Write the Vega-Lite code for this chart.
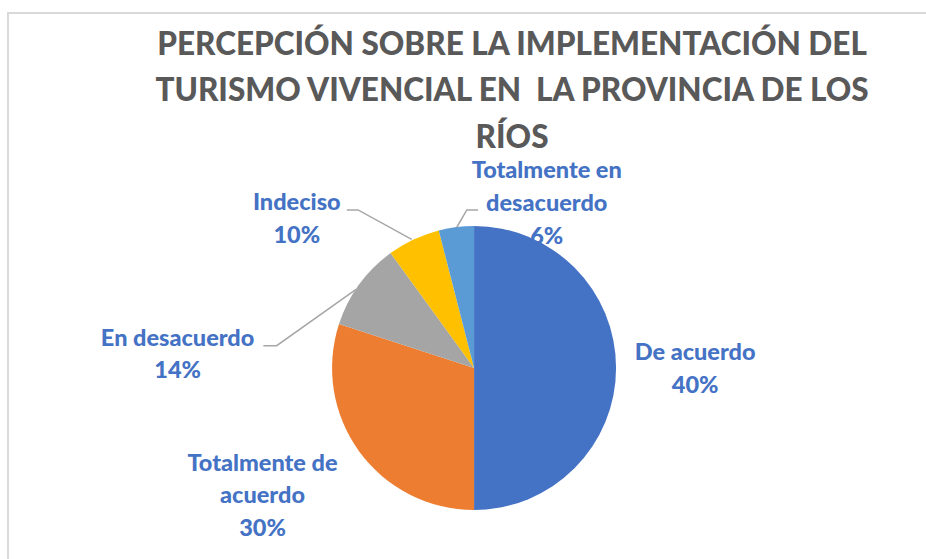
{
  "$schema": "https://vega.github.io/schema/vega-lite/v6.json",
  "autosize": "none",
  "padding": {"left": 8, "top": 13, "right": 0, "bottom": 0},
  "width": 930,
  "height": 560,
  "background": "white",
  "config": {"view": {"stroke": "#D9D9D9", "strokeWidth": 2}},
  "datasets": {
    "respuestas": [
      {"categoria": "De acuerdo", "valor": 50, "orden": 1},
      {"categoria": "Totalmente de acuerdo", "valor": 30, "orden": 2},
      {"categoria": "En desacuerdo", "valor": 10, "orden": 3},
      {"categoria": "Indeciso", "valor": 6, "orden": 4},
      {"categoria": "Totalmente en desacuerdo", "valor": 4, "orden": 5}
    ],
    "etiquetas": [
      {"categoria": "De acuerdo", "texto": ["De acuerdo", "40%"], "lx": 1.56, "ly": 0.056},
      {"categoria": "Totalmente de acuerdo", "texto": ["Totalmente de", "acuerdo", "30%"], "lx": -1.493, "ly": -0.725},
      {"categoria": "En desacuerdo", "texto": ["En desacuerdo", "14%"], "lx": -2.092, "ly": 0.157},
      {"categoria": "Indeciso", "texto": ["Indeciso", "10%"], "lx": -1.251, "ly": 1.115},
      {"categoria": "Totalmente en desacuerdo", "texto": ["Totalmente en", "desacuerdo", "6%"], "lx": 0.513, "ly": 1.339}
    ],
    "guias": [
      {"grupo": "Indeciso", "i": 1, "gx": -0.898, "gy": 1.115},
      {"grupo": "Indeciso", "i": 2, "gx": -0.819, "gy": 1.115},
      {"grupo": "Indeciso", "i": 3, "gx": -0.44, "gy": 0.908},
      {"grupo": "Totalmente en desacuerdo", "i": 1, "gx": 0.028, "gy": 1.115},
      {"grupo": "Totalmente en desacuerdo", "i": 2, "gx": -0.051, "gy": 1.115},
      {"grupo": "Totalmente en desacuerdo", "i": 3, "gx": -0.122, "gy": 0.993},
      {"grupo": "En desacuerdo", "i": 1, "gx": -1.487, "gy": 0.157},
      {"grupo": "En desacuerdo", "i": 2, "gx": -1.393, "gy": 0.157},
      {"grupo": "En desacuerdo", "i": 3, "gx": -0.833, "gy": 0.555}
    ]
  },
  "layer": [
    {
      "data": {"name": "respuestas"},
      "mark": {"type": "arc", "radius": 142},
      "encoding": {
        "x": {"datum": 0, "type": "quantitative", "scale": {"domain": [-3.289, 3.274], "nice": false, "zero": false}, "axis": null},
        "y": {"datum": 0, "type": "quantitative", "scale": {"domain": [-1.447, 2.505], "nice": false, "zero": false}, "axis": null},
        "theta": {"field": "valor", "type": "quantitative", "stack": true},
        "order": {"field": "orden", "type": "quantitative"},
        "color": {
          "field": "categoria",
          "type": "nominal",
          "legend": null,
          "scale": {
            "domain": ["De acuerdo", "Totalmente de acuerdo", "En desacuerdo", "Indeciso", "Totalmente en desacuerdo"],
            "range": ["#4472C4", "#ED7D31", "#A5A5A5", "#FFC000", "#5B9BD5"]
          }
        }
      }
    },
    {
      "data": {"name": "guias"},
      "mark": {"type": "line", "color": "#A6A6A6", "strokeWidth": 1.5},
      "encoding": {
        "x": {"field": "gx", "type": "quantitative", "axis": null},
        "y": {"field": "gy", "type": "quantitative", "axis": null},
        "detail": {"field": "grupo"},
        "order": {"field": "i", "type": "quantitative"}
      }
    },
    {
      "data": {"name": "etiquetas"},
      "mark": {"type": "text", "font": "Lato", "fontWeight": 900, "fontSize": 23.5, "color": "#4472C4", "align": "center", "baseline": "alphabetic", "lineHeight": 32.7},
      "encoding": {
        "x": {"field": "lx", "type": "quantitative", "axis": null},
        "y": {"field": "ly", "type": "quantitative", "axis": null},
        "text": {"field": "texto"}
      }
    },
    {
      "data": {"values": [{"titulo": ["PERCEPCIÓN SOBRE LA IMPLEMENTACIÓN DEL", "TURISMO VIVENCIAL EN \u00a0LA PROVINCIA DE LOS", "RÍOS"], "tx": 0.268, "ty": 2.209}]},
      "mark": {"type": "text", "font": "Lato", "fontWeight": 900, "fontSize": 31.5, "color": "#595959", "align": "center", "baseline": "alphabetic", "lineHeight": 46.3},
      "encoding": {
        "x": {"field": "tx", "type": "quantitative", "axis": null},
        "y": {"field": "ty", "type": "quantitative", "axis": null},
        "text": {"field": "titulo"}
      }
    }
  ]
}
